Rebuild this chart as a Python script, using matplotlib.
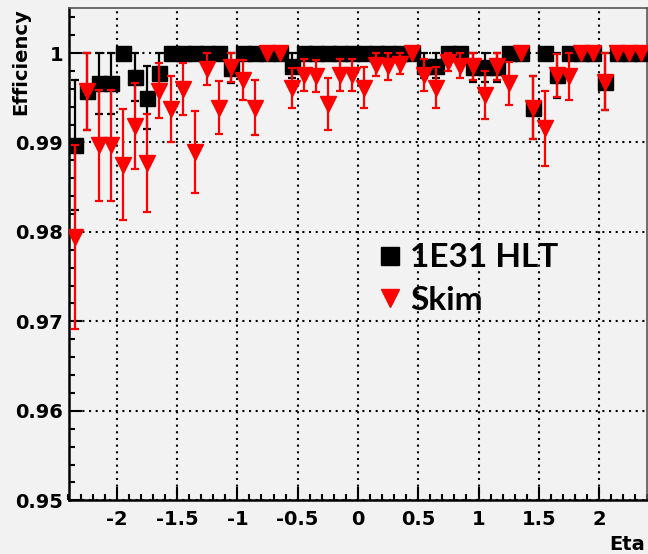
import matplotlib
matplotlib.use("Agg")
import matplotlib.pyplot as plt
from matplotlib.lines import Line2D
from matplotlib.ticker import FixedLocator, FixedFormatter, MultipleLocator

plt.rcParams["axes.unicode_minus"] = False

# Eta bin centres (bins of 0.1 from -2.4 to 2.4)
eta = [-2.35, -2.25, -2.15, -2.05, -1.95, -1.85, -1.75, -1.65, -1.55, -1.45,
       -1.35, -1.25, -1.15, -1.05, -0.95, -0.85, -0.75, -0.65, -0.55, -0.45,
       -0.35, -0.25, -0.15, -0.05, 0.05, 0.15, 0.25, 0.35, 0.45, 0.55,
       0.65, 0.75, 0.85, 0.95, 1.05, 1.15, 1.25, 1.35, 1.45, 1.55,
       1.65, 1.75, 1.85, 1.95, 2.05, 2.15, 2.25, 2.35]

# 1E31 HLT efficiency per bin and its uncertainty
hlt_eff = [0.9897, 0.9957, 0.9966, 0.9966, 1.0, 0.9973, 0.9950, 0.9978, 1.0, 1.0,
           1.0, 1.0, 1.0, 0.9983, 1.0, 1.0, 1.0, 1.0, 0.9986, 1.0,
           1.0, 1.0, 1.0, 1.0, 1.0, 1.0, 1.0, 1.0, 1.0, 0.9986,
           0.9986, 1.0, 1.0, 0.9984, 0.9984, 0.9984, 1.0, 1.0, 0.9939, 1.0,
           0.9975, 1.0, 1.0, 1.0, 0.9968, 1.0, 1.0, 1.0]
hlt_err = [0.0073, 0.0043, 0.0034, 0.0034, 0.0, 0.0027, 0.0035, 0.0022, 0.0, 0.0,
           0.0, 0.0, 0.0, 0.0017, 0.0, 0.0, 0.0, 0.0, 0.0014, 0.0,
           0.0, 0.0, 0.0, 0.0, 0.0, 0.0, 0.0, 0.0, 0.0, 0.0014,
           0.0014, 0.0, 0.0, 0.0016, 0.0016, 0.0016, 0.0, 0.0, 0.0035, 0.0,
           0.0025, 0.0, 0.0, 0.0, 0.0032, 0.0, 0.0, 0.0]

# Skim efficiency per bin and its uncertainty
skim_eff = [0.9794, 0.9957, 0.9897, 0.9897, 0.9875, 0.9918, 0.9877, 0.9958, 0.9937, 0.9960,
            0.9889, 0.9982, 0.9939, 0.9984, 0.9970, 0.9939, 1.0, 1.0, 0.9961, 0.9975,
            0.9974, 0.9943, 0.9975, 0.9975, 0.9961, 0.9987, 0.9985, 0.9988, 1.0, 0.9975,
            0.9961, 0.9990, 0.9986, 0.9985, 0.9953, 0.9985, 0.9966, 1.0, 0.9939, 0.9916,
            0.9975, 0.9974, 1.0, 1.0, 0.9968, 1.0, 1.0, 1.0]
skim_err = [0.0103, 0.0043, 0.0062, 0.0062, 0.0062, 0.0048, 0.0055, 0.0031, 0.0037, 0.0029,
            0.0046, 0.0018, 0.0030, 0.0016, 0.0022, 0.0031, 0.0, 0.0, 0.0022, 0.0018,
            0.0018, 0.0029, 0.0018, 0.0018, 0.0023, 0.0013, 0.0015, 0.0012, 0.0, 0.0018,
            0.0023, 0.0010, 0.0014, 0.0015, 0.0027, 0.0015, 0.0024, 0.0, 0.0035, 0.0042,
            0.0024, 0.0026, 0.0, 0.0, 0.0032, 0.0, 0.0, 0.0]

x_ticks = [-2, -1.5, -1, -0.5, 0, 0.5, 1, 1.5, 2]
x_labels = ["-2", "-1.5", "-1", "-0.5", "0", "0.5", "1", "1.5", "2"]
y_ticks = [0.95, 0.96, 0.97, 0.98, 0.99, 1.0]
y_labels = ["0.95", "0.96", "0.97", "0.98", "0.99", "1"]
series_names = ["1E31 HLT", "Skim"]

BG = "#f2f2f2"
W, H = 648, 554
fig = plt.figure(figsize=(W / 100, H / 100), dpi=100, facecolor=BG)
ax = fig.add_axes([68.5 / W, 53.7 / H, 578.9 / W, 492 / H])
ax.set_facecolor(BG)

tick_font = dict(family="DejaVu Sans", weight="bold", size=14)

ax.errorbar(eta, hlt_eff, yerr=hlt_err, fmt="s", color="black", ms=10.8,
            elinewidth=1.6, capsize=2.6, capthick=1.6, zorder=3)
ax.errorbar(eta, skim_eff, yerr=skim_err, fmt="v", color="red", ms=11,
            elinewidth=1.6, capsize=2.6, capthick=1.6, zorder=4)

ax.set_xlim(-2.4, 2.4)
ax.set_ylim(0.95, 1.005)

ax.xaxis.set_major_locator(FixedLocator(x_ticks))
ax.xaxis.set_major_formatter(FixedFormatter(x_labels))
ax.xaxis.set_minor_locator(MultipleLocator(0.1))
ax.yaxis.set_major_locator(FixedLocator(y_ticks))
ax.yaxis.set_major_formatter(FixedFormatter(y_labels))
ax.yaxis.set_minor_locator(MultipleLocator(0.002))

ax.tick_params(which="both", direction="in", colors="black", width=1.5,
               top=False, right=False)
ax.tick_params(which="major", length=9.5)
ax.tick_params(which="minor", length=4.5)
ax.tick_params(axis="x", which="major", pad=7)
ax.tick_params(axis="y", which="major", pad=4)
for lab in ax.get_xticklabels() + ax.get_yticklabels():
    lab.set_fontproperties(tick_font)

ax.set_axisbelow(True)
ax.grid(True, which="major", color="black", linestyle=(0, (1, 2.2)), linewidth=1.5)

for side in ["left", "bottom"]:
    ax.spines[side].set_linewidth(1.8)
for side in ["top", "right"]:
    ax.spines[side].set_linewidth(1.2)
    ax.spines[side].set_color("#555555")

fig.text(21 / W, 1 - 8 / H, "Efficiency", rotation=90, ha="center", va="top",
         family="DejaVu Sans", weight="bold", size=14)
fig.text(645 / W, 1 - 550 / H, "Eta", ha="right", va="baseline",
         family="DejaVu Sans", weight="bold", size=14)

handles = [
    Line2D([], [], linestyle="none", marker="s", color="black", ms=13),
    Line2D([], [], linestyle="none", marker="v", color="red", ms=13.5),
]
ax.legend(handles, series_names, loc="center left", bbox_to_anchor=(0.5265, 0.4498),
          frameon=False, handlelength=1.0, handletextpad=0.1, labelspacing=0.4,
          borderpad=0, borderaxespad=0,
          prop=dict(family="Lato", weight="bold", size=24))

fig.savefig("out.png", dpi=100, facecolor=BG)
